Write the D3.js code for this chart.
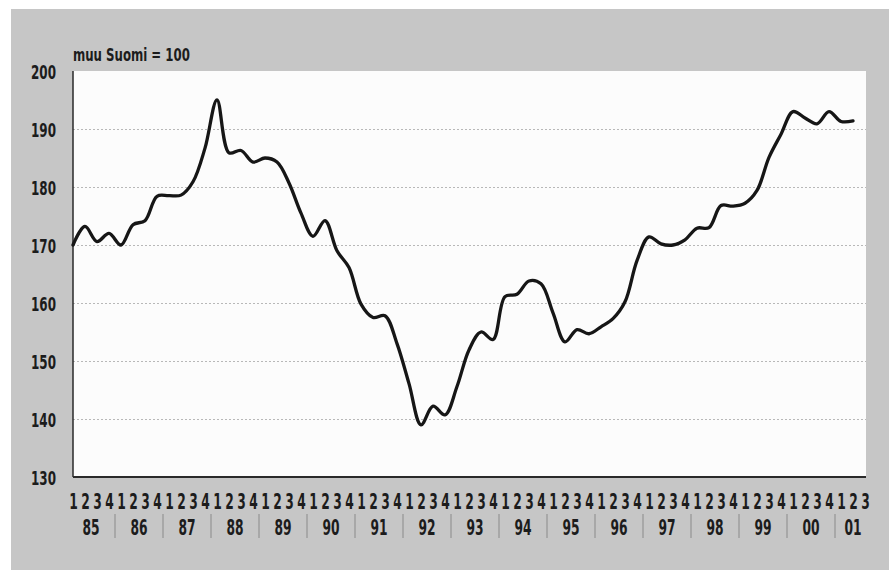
<!DOCTYPE html>
<html>
<head>
<meta charset="utf-8">
<script src="https://cdn.jsdelivr.net/npm/d3@7/dist/d3.min.js"></script>
<style>
  html, body { margin: 0; padding: 0; background: #ffffff; }
  svg { display: block; }
  .lbl { font-family: "DejaVu Sans", "Liberation Sans", sans-serif; font-weight: bold; fill: #1c1c1c; }
</style>
</head>
<body>
<svg id="chart" width="893" height="570"></svg>
<script>
const years = ["85","86","87","88","89","90","91","92","93","94","95","96","97","98","99","00","01"];
const quarterLabels = ["1","2","3","4"];
const lastYearQuarters = 3;
const unitLabel = "muu Suomi = 100";
const yTicks = [130, 140, 150, 160, 170, 180, 190, 200];
const values = [
  170.0, 173.2, 170.6, 172.0,
  170.0, 173.5, 174.2, 178.4,
  178.5, 178.6, 180.9, 186.7,
  195.0, 185.9, 186.3, 184.3,
  185.0, 184.3, 180.7, 175.5,
  171.5, 174.2, 169.0, 166.1,
  159.8, 157.5, 157.8, 153.0,
  146.1, 139.0, 142.2, 140.7,
  145.6, 151.9, 155.0, 153.7,
  161.1, 161.5, 163.8, 163.3,
  158.3, 153.3, 155.4, 154.7,
  155.9, 157.3, 160.2, 167.3,
  171.4, 170.2, 170.0, 170.9,
  172.9, 173.0, 176.8, 176.7,
  177.2, 179.4, 185.1, 189.1,
  193.0, 191.9, 190.9, 193.0,
  191.3, 191.4
];

// quarter keys
const keys = [];
years.forEach((y, yi) => {
  const n = (yi === years.length - 1) ? lastYearQuarters : 4;
  for (let q = 0; q < n; q++) keys.push(y + "-" + quarterLabels[q]);
});

const svg = d3.select("#chart");
const W = 893, H = 570;
const plot = { left: 73, right: 866, top: 71, bottom: 477 };
const SQ = 0.6; // horizontal condensing of the bold face

// background frame
svg.append("rect").attr("x", 11).attr("y", 9).attr("width", 878).attr("height", H - 9).attr("fill", "#c6c6c6");
svg.append("rect").attr("x", plot.left).attr("y", plot.top)
  .attr("width", plot.right - plot.left).attr("height", plot.bottom - plot.top).attr("fill", "#fcfcfc");

const x = d3.scalePoint().domain(keys).range([73, 865]);
const y = d3.scaleLinear().domain([130, 200]).range([plot.bottom, plot.top]);

// gridlines
svg.append("g")
  .attr("transform", `translate(${plot.left},0)`)
  .call(d3.axisRight(y).tickValues(yTicks.filter(t => t > 130 && t < 200)).tickSize(plot.right - plot.left).tickFormat(""))
  .call(g => g.select(".domain").remove())
  .call(g => g.selectAll("line").attr("stroke", "#b8b8b8").attr("stroke-width", 1).attr("stroke-dasharray", "2,2"));

// y axis labels
svg.append("g")
  .attr("transform", `translate(${plot.left},0)`)
  .call(d3.axisLeft(y).tickValues(yTicks).tickSize(0).tickPadding(0))
  .call(g => g.select(".domain").remove())
  .call(g => g.selectAll("text").attr("class", "lbl").attr("font-size", 19)
    .attr("x", 0).attr("dy", "0.36em").attr("transform", `translate(-17,1) scale(0.63,1)`));

// axis lines
svg.append("line").attr("x1", plot.left).attr("x2", plot.left).attr("y1", plot.top).attr("y2", plot.bottom)
  .attr("stroke", "#2a2a2a").attr("stroke-width", 1.5);
svg.append("line").attr("x1", plot.left).attr("x2", plot.right).attr("y1", plot.bottom).attr("y2", plot.bottom)
  .attr("stroke", "#2a2a2a").attr("stroke-width", 2);

// quarter labels
svg.append("g")
  .attr("transform", `translate(0,${plot.bottom})`)
  .call(d3.axisBottom(x).tickSize(0).tickPadding(0).tickFormat(k => k.split("-")[1]))
  .call(g => g.select(".domain").remove())
  .call(g => g.selectAll("text").attr("class", "lbl").attr("font-size", 20.5)
    .attr("y", 0).attr("dy", "0").attr("dominant-baseline", "central")
    .attr("transform", `translate(0,25) scale(${SQ},1)`));

// year labels and separators
const yearG = svg.append("g");
years.forEach((yr, yi) => {
  const ks = keys.filter(k => k.startsWith(yr + "-"));
  const cx = (x(ks[0]) + x(ks[ks.length - 1])) / 2;
  yearG.append("text").attr("class", "lbl").attr("font-size", 20.5)
    .attr("transform", `translate(${cx},528) scale(${SQ},1)`)
    .attr("text-anchor", "middle").attr("dominant-baseline", "central").text(yr);
  if (yi > 0) {
    const sx = x(ks[0]) - x.step() / 2;
    yearG.append("line").attr("x1", sx).attr("x2", sx).attr("y1", 514).attr("y2", 538)
      .attr("stroke", "#8a8a8a").attr("stroke-width", 1);
  }
});

// unit label
const ul = svg.append("text").attr("class", "lbl").attr("font-size", 18).text(unitLabel);
const ulw = ul.node().getComputedTextLength();
ul.attr("transform", `translate(73,61) scale(${117 / ulw},1)`);

// line
const line = d3.line()
  .x((d, i) => x(keys[i]))
  .y(d => y(d))
  .curve(d3.curveCatmullRom.alpha(0.5));
svg.append("path").datum(values).attr("d", line)
  .attr("fill", "none").attr("stroke", "#161616").attr("stroke-width", 3.3)
  .attr("stroke-linejoin", "round").attr("stroke-linecap", "round");
</script>
</body>
</html>
